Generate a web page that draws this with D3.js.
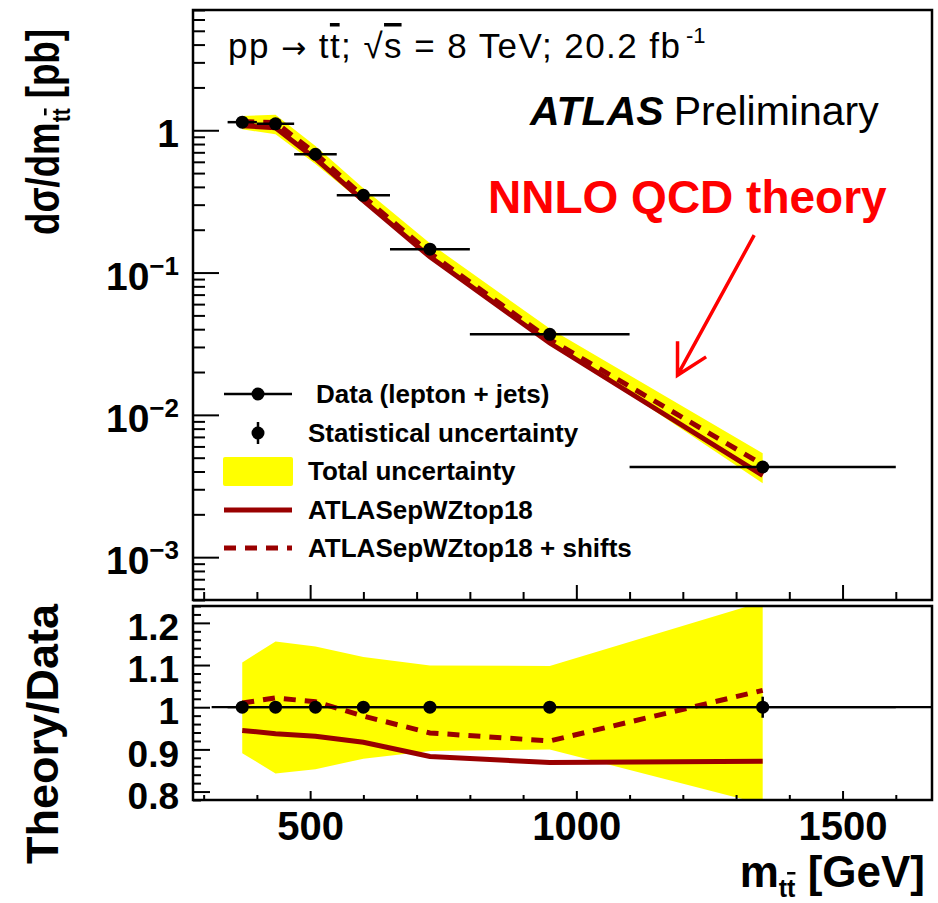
<!DOCTYPE html>
<html>
<head>
<meta charset="utf-8">
<script src="https://cdn.jsdelivr.net/npm/d3@7"></script>
<style>
  body { margin: 0; background: #fff; }
  svg { display: block; }
  text { font-family: "Liberation Sans", Arial, Helvetica, sans-serif; fill: #000; }
</style>
</head>
<body>
<svg id="chart" width="938" height="903"></svg>
<script>
// ttbar invariant-mass spectrum, 8 TeV lepton+jets, compared with NNLO QCD
const binEdges     = [345, 400, 470, 550, 650, 800, 1100, 1600];
const binCenters   = [372.5, 435, 510, 600, 725, 950, 1350];
const dataXsec     = [1.14, 1.11, 0.678, 0.349, 0.146, 0.0368, 0.0043];   // pb/GeV
const statRel      = [0.006, 0.006, 0.006, 0.007, 0.008, 0.010, 0.025];
const totalUpRel   = [0.106, 0.156, 0.144, 0.119, 0.099, 0.098, 0.25];
const totalDownRel = [0.109, 0.157, 0.147, 0.122, 0.104, 0.100, 0.23];
const ratioNominal = [0.945, 0.937, 0.931, 0.917, 0.883, 0.869, 0.872];   // ATLASepWZtop18 / data
const ratioShifted = [1.010, 1.022, 1.013, 0.979, 0.939, 0.920, 1.040];   // ATLASepWZtop18 + shifts / data
const xTickLabels      = [500, 1000, 1500];
const yTopTickLabels   = [1, 0.1, 0.01, 0.001];
const yRatioTickLabels = [0.8, 0.9, 1, 1.1, 1.2];
const legendLabels = ["Data (lepton + jets)", "Statistical uncertainty", "Total uncertainty",
                      "ATLASepWZtop18", "ATLASepWZtop18 + shifts"];

const THEORY = "#990000", BAND = "#ffff00";

const svg = d3.select("#chart");
const L = 193, R = 932;
const topPanel = { top: 10, bottom: 600 };
const ratioPanel = { top: 606, bottom: 800 };

const x = d3.scaleLinear().domain([280, 1668]).range([L, R]);
const y = d3.scaleLog().domain([5e-4, 7]).range([topPanel.bottom, topPanel.top]);
const yr = d3.scaleLinear().domain([0.78, 1.24]).range([ratioPanel.bottom, ratioPanel.top]);

const pts = binCenters.map((c, i) => ({
  x: c, lo: binEdges[i], hi: binEdges[i + 1], v: dataXsec[i],
  stat: statRel[i], up: totalUpRel[i], dn: totalDownRel[i],
  rNom: ratioNominal[i], rSh: ratioShifted[i]
}));

// clipping for both panels
const defs = svg.append("defs");
defs.append("clipPath").attr("id", "clipTop").append("rect")
  .attr("x", L).attr("y", topPanel.top).attr("width", R - L).attr("height", topPanel.bottom - topPanel.top);
defs.append("clipPath").attr("id", "clipRatio").append("rect")
  .attr("x", L).attr("y", ratioPanel.top).attr("width", R - L).attr("height", ratioPanel.bottom - ratioPanel.top);

/* ---------------- upper panel ---------------- */
const gTop = svg.append("g").attr("clip-path", "url(#clipTop)");

const bandTop = d3.area().x(d => x(d.x)).y0(d => y(d.v * (1 - d.dn))).y1(d => y(d.v * (1 + d.up)));
gTop.append("path").datum(pts).attr("d", bandTop).attr("fill", BAND);

const lineNom = d3.line().x(d => x(d.x)).y(d => y(d.v * d.rNom));
const lineSh  = d3.line().x(d => x(d.x)).y(d => y(d.v * d.rSh));
gTop.append("path").datum(pts).attr("d", lineNom).attr("fill", "none")
  .attr("stroke", THEORY).attr("stroke-width", 5);
gTop.append("path").datum(pts).attr("d", lineSh).attr("fill", "none")
  .attr("stroke", THEORY).attr("stroke-width", 5).attr("stroke-dasharray", "12,9");

gTop.selectAll("line.xerr").data(pts).join("line").attr("class", "xerr")
  .attr("x1", d => x(d.lo)).attr("x2", d => x(d.hi))
  .attr("y1", d => y(d.v)).attr("y2", d => y(d.v))
  .attr("stroke", "#000").attr("stroke-width", 2.5);
gTop.selectAll("line.yerr").data(pts).join("line").attr("class", "yerr")
  .attr("x1", d => x(d.x)).attr("x2", d => x(d.x))
  .attr("y1", d => y(d.v * (1 - d.stat))).attr("y2", d => y(d.v * (1 + d.stat)))
  .attr("stroke", "#000").attr("stroke-width", 2.5);
gTop.selectAll("circle").data(pts).join("circle")
  .attr("cx", d => x(d.x)).attr("cy", d => y(d.v)).attr("r", 6.5).attr("fill", "#000");

/* ---------------- ratio panel ---------------- */
const gRat = svg.append("g").attr("clip-path", "url(#clipRatio)");
const bandRat = d3.area().x(d => x(d.x)).y0(d => yr(1 - d.dn)).y1(d => yr(1 + d.up));
gRat.append("path").datum(pts).attr("d", bandRat).attr("fill", BAND);

gRat.append("line")
  .attr("x1", x(315)).attr("x2", R).attr("y1", yr(1)).attr("y2", yr(1))
  .attr("stroke", "#000").attr("stroke-width", 2.2);

gRat.append("path").datum(pts)
  .attr("d", d3.line().x(d => x(d.x)).y(d => yr(d.rNom)))
  .attr("fill", "none").attr("stroke", THEORY).attr("stroke-width", 5);
gRat.append("path").datum(pts)
  .attr("d", d3.line().x(d => x(d.x)).y(d => yr(d.rSh)))
  .attr("fill", "none").attr("stroke", THEORY).attr("stroke-width", 5).attr("stroke-dasharray", "12,9");

gRat.selectAll("line.xerr").data(pts).join("line").attr("class", "xerr")
  .attr("x1", d => x(d.lo)).attr("x2", d => x(d.hi))
  .attr("y1", d => yr(d.v / d.v)).attr("y2", d => yr(d.v / d.v))
  .attr("stroke", "#000").attr("stroke-width", 2.2);
gRat.selectAll("line.yerr").data(pts).join("line").attr("class", "yerr")
  .attr("x1", d => x(d.x)).attr("x2", d => x(d.x))
  .attr("y1", d => yr(1 - d.stat)).attr("y2", d => yr(1 + d.stat))
  .attr("stroke", "#000").attr("stroke-width", 2.5);
gRat.selectAll("circle").data(pts).join("circle")
  .attr("cx", d => x(d.x)).attr("cy", d => yr(d.v / d.v)).attr("r", 6.5).attr("fill", "#000");

/* ---------------- axes ---------------- */
function styleAxis(g) {
  g.select(".domain").remove();
  g.selectAll(".tick line").attr("stroke", "#000").attr("stroke-width", 2);
}
const xMinor = d3.range(300, 1601, 100).filter(v => !xTickLabels.includes(v));

// upper panel: ticks only
svg.append("g").attr("transform", `translate(0,${topPanel.bottom})`)
  .call(d3.axisBottom(x).tickValues(xTickLabels).tickSize(-15).tickFormat(""))
  .call(styleAxis);
svg.append("g").attr("transform", `translate(0,${topPanel.bottom})`)
  .call(d3.axisBottom(x).tickValues(xMinor).tickSize(-8).tickFormat(""))
  .call(styleAxis);

const yMinorTop = [];
[-4, -3, -2, -1, 0].forEach(e => { for (let k = 2; k <= 9; k++) { const v = k * Math.pow(10, e); if (v >= 5e-4 && v <= 7) yMinorTop.push(v); } });
svg.append("g").attr("transform", `translate(${L},0)`)
  .call(d3.axisLeft(y).tickValues(yTopTickLabels).tickSize(-26).tickFormat(""))
  .call(styleAxis);
svg.append("g").attr("transform", `translate(${L},0)`)
  .call(d3.axisLeft(y).tickValues(yMinorTop).tickSize(-12).tickFormat(""))
  .call(styleAxis);

// upper y labels: 1, 10^-1, 10^-2, 10^-3
yTopTickLabels.forEach(v => {
  const e = Math.round(Math.log10(v));
  const t = svg.append("text").attr("x", 179).attr("y", y(v) + 17)
    .attr("text-anchor", "end").attr("font-weight", "bold").attr("font-size", 39);
  if (e === 0) { t.text("1"); }
  else {
    t.append("tspan").text("10");
    t.append("tspan").attr("font-size", 26).attr("dy", -15).text("\u2212" + (-e));
  }
});

// ratio panel axes
svg.append("g").attr("transform", `translate(0,${ratioPanel.bottom})`)
  .call(d3.axisBottom(x).tickValues(xTickLabels).tickSize(-9).tickPadding(12).tickFormat(d3.format("d")))
  .call(styleAxis)
  .call(g => g.selectAll("text").attr("font-size", 40).attr("font-weight", "bold")
    .attr("font-family", "Liberation Sans, Arial, sans-serif").attr("fill", "#000"));
svg.append("g").attr("transform", `translate(0,${ratioPanel.bottom})`)
  .call(d3.axisBottom(x).tickValues(xMinor).tickSize(-5).tickFormat(""))
  .call(styleAxis);

const yrMinor = d3.range(0.78, 1.2401, 0.02).map(v => +v.toFixed(2)).filter(v => !yRatioTickLabels.some(m => Math.abs(m - v) < 1e-6));
svg.append("g").attr("transform", `translate(${L},0)`)
  .call(d3.axisLeft(yr).tickValues(yRatioTickLabels).tickSize(-17).tickPadding(14).tickFormat(d => d === 1 ? "1" : d3.format(".1f")(d)))
  .call(styleAxis)
  .call(g => g.selectAll("text").attr("font-size", 37).attr("font-weight", "bold").attr("dy", "0.45em")
    .attr("font-family", "Liberation Sans, Arial, sans-serif").attr("fill", "#000"));
svg.append("g").attr("transform", `translate(${L},0)`)
  .call(d3.axisLeft(yr).tickValues(yrMinor).tickSize(-8).tickFormat(""))
  .call(styleAxis);

// frames
[topPanel, ratioPanel].forEach(p => {
  svg.append("rect").attr("x", L).attr("y", p.top).attr("width", R - L).attr("height", p.bottom - p.top)
    .attr("fill", "none").attr("stroke", "#000").attr("stroke-width", 2.5);
});

/* ---------------- axis titles ---------------- */
const yTitle = svg.append("text").attr("transform", "translate(59,29) rotate(-90)")
  .attr("text-anchor", "end").attr("font-weight", "bold").attr("font-size", 46)
  .attr("textLength", 206).attr("lengthAdjust", "spacingAndGlyphs");
yTitle.append("tspan").text("d\u03c3/dm");
yTitle.append("tspan").attr("font-size", 26).attr("dy", 11).text("t");
yTitle.append("tspan").attr("font-size", 26).attr("text-decoration", "overline").text("t");
yTitle.append("tspan").attr("dy", -11).text(" [pb]");

svg.append("text").attr("transform", "translate(58,604) rotate(-90)")
  .attr("text-anchor", "end").attr("font-weight", "bold").attr("font-size", 45)
  .text("Theory/Data");

const xTitle = svg.append("text").attr("x", 925).attr("y", 887)
  .attr("text-anchor", "end").attr("font-weight", "bold").attr("font-size", 44);
xTitle.append("tspan").text("m");
xTitle.append("tspan").attr("font-size", 25).attr("dy", 10).text("t");
xTitle.append("tspan").attr("font-size", 25).attr("text-decoration", "overline").text("t");
xTitle.append("tspan").attr("dy", -10).text(" [GeV]");

/* ---------------- labels ---------------- */
const title = svg.append("text").attr("x", 228).attr("y", 58).attr("font-size", 35)
  .attr("textLength", 452).attr("lengthAdjust", "spacing");
title.append("tspan").text("pp ");
title.append("tspan").style("font-family", "DejaVu Sans").attr("font-size", 30).text("\u2192");
title.append("tspan").text(" t");
title.append("tspan").attr("text-decoration", "overline").text("t");
title.append("tspan").text("; \u221a");
title.append("tspan").attr("text-decoration", "overline").text("s");
title.append("tspan").text(" = 8 TeV; 20.2 fb");
svg.append("text").attr("x", 686).attr("y", 43).attr("font-size", 22).text("-1");

const atlas = svg.append("text").attr("x", 530).attr("y", 125).attr("font-size", 41);
atlas.append("tspan").attr("font-weight", "bold").attr("font-style", "italic").text("ATLAS");
atlas.append("tspan").attr("dx", 10).text("Preliminary");

svg.append("text").attr("x", 488).attr("y", 213).attr("font-size", 46).attr("font-weight", "bold")
  .style("fill", "#ff0000").text("NNLO QCD theory");

// arrow towards the theory curves (data coordinates)
const arrowTail = [1334, 0.183], arrowTip = [1190, 0.019];
const tx = x(arrowTip[0]), ty = y(arrowTip[1]);
const sx = x(arrowTail[0]), sy = y(arrowTail[1]);
const ang = Math.atan2(sy - ty, sx - tx), head = 34, spread = 0.5;
svg.append("path")
  .attr("d", `M${sx},${sy}L${tx},${ty}M${tx + head * Math.cos(ang - spread)},${ty + head * Math.sin(ang - spread)}L${tx},${ty}L${tx + head * Math.cos(ang + spread)},${ty + head * Math.sin(ang + spread)}`)
  .attr("fill", "none").attr("stroke", "#ff0000").attr("stroke-width", 3.5);

/* ---------------- legend ---------------- */
const lg = svg.append("g");
const rowY = [394, 433, 471, 510, 548];
const symL = 224, symR = 292, symC = 258;
// data
lg.append("line").attr("x1", symL).attr("x2", symR).attr("y1", rowY[0]).attr("y2", rowY[0]).attr("stroke", "#000").attr("stroke-width", 2.5);
lg.append("circle").attr("cx", symC).attr("cy", rowY[0]).attr("r", 6.5).attr("fill", "#000");
// statistical
lg.append("line").attr("x1", symC).attr("x2", symC).attr("y1", rowY[1] - 11).attr("y2", rowY[1] + 11).attr("stroke", "#000").attr("stroke-width", 2.5);
lg.append("circle").attr("cx", symC).attr("cy", rowY[1]).attr("r", 6.5).attr("fill", "#000");
// total
lg.append("rect").attr("x", symL - 1).attr("y", rowY[2] - 14).attr("width", symR - symL + 2).attr("height", 29).attr("rx", 2).attr("fill", BAND);
// theory
lg.append("line").attr("x1", symL).attr("x2", symR).attr("y1", rowY[3]).attr("y2", rowY[3]).attr("stroke", THEORY).attr("stroke-width", 5);
lg.append("line").attr("x1", symL).attr("x2", symR).attr("y1", rowY[4]).attr("y2", rowY[4]).attr("stroke", THEORY).attr("stroke-width", 5).attr("stroke-dasharray", "12,9");

legendLabels.forEach((s, i) => {
  lg.append("text").attr("x", i === 0 ? 316 : 308).attr("y", rowY[i] + 9)
    .attr("font-size", 26).attr("font-weight", "bold").text(s);
});
</script>
</body>
</html>
